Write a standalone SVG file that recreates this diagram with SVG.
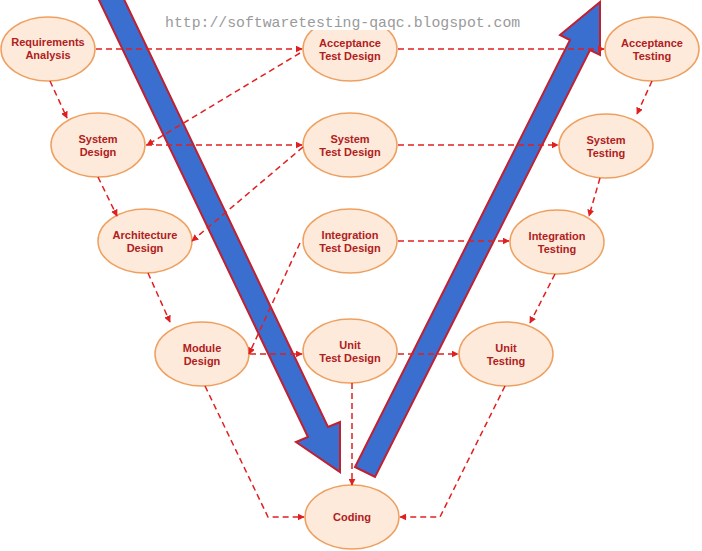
<svg xmlns="http://www.w3.org/2000/svg" width="702" height="551" viewBox="0 0 702 551">
<style>
.n ellipse{fill:#fdeadb;stroke:#eea060;stroke-width:1.5}
.n text{font-family:"Liberation Sans",Arial,sans-serif;font-weight:bold;font-size:11px;fill:#b02020;text-anchor:middle}
.c path{fill:none;stroke:#e02020;stroke-width:1.5;stroke-dasharray:6,4;marker-end:url(#ah)}
.big{fill:#3a6fd0;stroke:#c02030;stroke-width:2;stroke-linejoin:miter}
</style>
<defs><marker id="ah" viewBox="0 0 10 10" refX="9" refY="5" markerWidth="7" markerHeight="7" orient="auto" markerUnits="userSpaceOnUse"><path d="M0,0L10,5L0,10z" fill="#e02020"/></marker></defs>
<rect width="702" height="551" fill="#fff"/>
<g id="req" class="n"><ellipse cx="48" cy="49" rx="47" ry="32"/><text x="48" y="46">Requirements</text><text x="48" y="59">Analysis</text></g>
<g id="atd" class="n"><ellipse cx="350" cy="49" rx="47" ry="32"/><text x="350" y="47">Acceptance</text><text x="350" y="60">Test Design</text></g>
<g id="at" class="n"><ellipse cx="652" cy="49" rx="47" ry="32"/><text x="652" y="47">Acceptance</text><text x="652" y="60">Testing</text></g>
<g id="sd" class="n"><ellipse cx="98" cy="145" rx="47" ry="32"/><text x="98" y="143">System</text><text x="98" y="156">Design</text></g>
<g id="std" class="n"><ellipse cx="350" cy="145" rx="47" ry="32"/><text x="350" y="143">System</text><text x="350" y="156">Test Design</text></g>
<g id="st" class="n"><ellipse cx="606" cy="146" rx="47" ry="32"/><text x="606" y="144">System</text><text x="606" y="157">Testing</text></g>
<g id="ad" class="n"><ellipse cx="145" cy="241" rx="47" ry="32"/><text x="145" y="239">Architecture</text><text x="145" y="252">Design</text></g>
<g id="itd" class="n"><ellipse cx="350" cy="241" rx="47" ry="32"/><text x="350" y="239">Integration</text><text x="350" y="252">Test Design</text></g>
<g id="it" class="n"><ellipse cx="557" cy="242" rx="47" ry="32"/><text x="557" y="240">Integration</text><text x="557" y="253">Testing</text></g>
<g id="md" class="n"><ellipse cx="202" cy="354" rx="47" ry="32"/><text x="202" y="352">Module</text><text x="202" y="365">Design</text></g>
<g id="utd" class="n"><ellipse cx="350" cy="351" rx="47" ry="32"/><text x="350" y="349">Unit</text><text x="350" y="362">Test Design</text></g>
<g id="ut" class="n"><ellipse cx="506" cy="354" rx="47" ry="32"/><text x="506" y="352">Unit</text><text x="506" y="365">Testing</text></g>
<g id="cod" class="n"><ellipse cx="352" cy="517" rx="47" ry="32"/><text x="352" y="521">Coding</text></g>
<rect x="162" y="10" width="362" height="20" fill="#fff"/>
<text x="165" y="27" font-family="'Liberation Mono','DejaVu Sans Mono',monospace" font-size="14.8" fill="#9a9a9a">http://softwaretesting-qaqc.blogspot.com</text>
<g id="vee">
<polygon class="big" points="98,-2 121,-7 328,427 340,422 340,472 296,442 308,437"/>
<polygon class="big" points="355,467 375,477 590,50 600,55 600,2 560,35 570,40"/>
</g>
<g id="connectors" class="c">
<path d="M96,49H302"/><path d="M398,49H604"/>
<path d="M50,81L67,118"/>
<path d="M300,53L147,145"/>
<path d="M146,145H302"/><path d="M398,145H558"/>
<path d="M652,81L637,114"/>
<path d="M98,177L117,216"/>
<path d="M303,147L192,241"/>
<path d="M398,241H509"/>
<path d="M600,178L589,216"/>
<path d="M148,273L170,322"/>
<path d="M300,243L249,354"/>
<path d="M250,354H302"/><path d="M398,354H458"/>
<path d="M555,274L530,323"/>
<path d="M205,386L268,517H304"/>
<path d="M352,383V485"/>
<path d="M505,386L440,517H400"/>
</g>
</svg>
